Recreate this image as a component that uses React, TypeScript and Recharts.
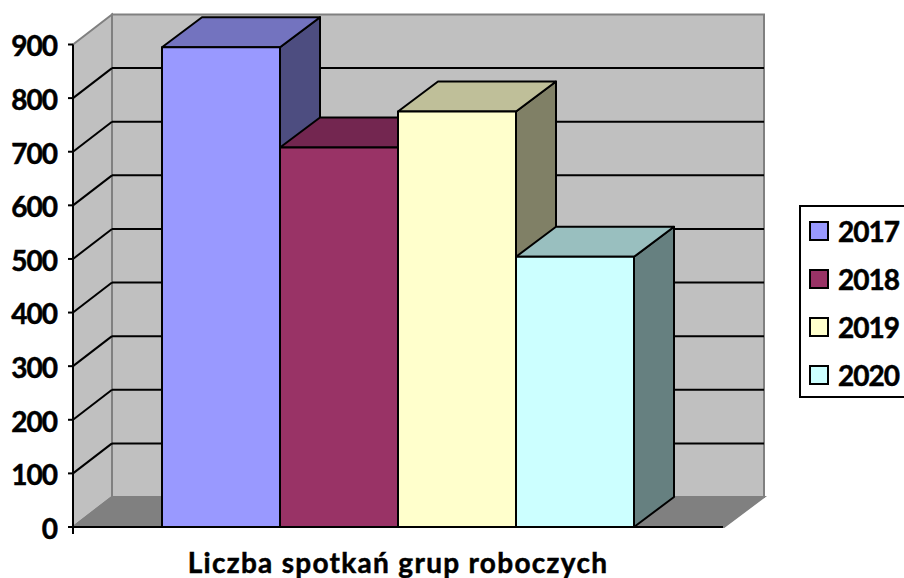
import { BarChart, Bar, XAxis, YAxis, CartesianGrid, Legend } from 'recharts'

const years = ['2017', '2018', '2019', '2020']
const values = [895, 708, 775, 504]
const yTicks = [0, 100, 200, 300, 400, 500, 600, 700, 800, 900]
const fronts = ['#9999ff', '#993366', '#ffffcc', '#ccffff']
const tops = ['#7373bf', '#732650', '#bfbf99', '#99bfbf']
const sides = ['#4d4d80', '#4d1a33', '#808066', '#668080']

const chartTitle = 'Liczba spotkań grup roboczych'
const FONT = 'Lato, sans-serif'

// 3d look: how far the back wall sits from the front plane
const DX = 40
const DY = 30
const LEFT = 73
const RIGHT = 724
const TOP = 44.5
const BOTTOM = 527

const tableRow: Record<string, string | number> = { name: chartTitle }
years.forEach((y, i) => {
  tableRow[y] = values[i]
})
const data = [tableRow]

function Walls() {
  const backL = LEFT + DX - 1
  const backR = RIGHT + DX
  const backT = TOP - DY
  const backB = BOTTOM - DY
  return (
    <g>
      <polygon
        points={`${LEFT},${TOP} ${backL},${backT} ${backL},${backB} ${LEFT},${BOTTOM}`}
        fill="#c0c0c0"
        stroke="#808080"
        strokeWidth={2}
      />
      <rect x={backL} y={backT} width={backR - backL} height={backB - backT} fill="#c0c0c0" stroke="#808080" strokeWidth={2} />
      <polygon
        points={`${LEFT},${BOTTOM} ${backL},${backB} ${backR},${backB} ${RIGHT},${BOTTOM}`}
        fill="#808080"
        stroke="#808080"
        strokeWidth={2}
      />
      <line x1={LEFT} y1={BOTTOM} x2={LEFT} y2={534} stroke="#000" strokeWidth={2} />
    </g>
  )
}

function gridLine(props: any) {
  const { x1, y1, index } = props
  const inner = y1 > TOP + 1 && y1 < BOTTOM - 1
  return (
    <g key={`row-${index}`}>
      {index === 0 && <Walls />}
      {inner && (
        <>
          <line x1={x1} y1={y1} x2={LEFT + DX - 1} y2={y1 - DY} stroke="#000" strokeWidth={2} />
          <line x1={LEFT + DX - 1} y1={y1 - DY} x2={RIGHT + DX} y2={y1 - DY} stroke="#000" strokeWidth={2} />
        </>
      )}
    </g>
  )
}

function box3d(i: number) {
  return (props: any) => {
    const { x, y, width, height } = props
    const r = x + width
    const b = y + height
    return (
      <g stroke="#000" strokeWidth={2} strokeLinejoin="round">
        <polygon points={`${r},${y} ${r + DX},${y - DY} ${r + DX},${b - DY} ${r},${b}`} fill={sides[i]} />
        <polygon points={`${x},${y} ${x + DX},${y - DY} ${r + DX},${y - DY} ${r},${y}`} fill={tops[i]} />
        <rect x={x} y={y} width={width} height={height} fill={fronts[i]} />
      </g>
    )
  }
}

function LegendBox({ payload }: any) {
  return (
    <div
      style={{
        boxSizing: 'border-box',
        width: 120,
        height: 193,
        border: '2px solid #000',
        background: '#fff',
      }}
    >
      {(payload ?? []).map((p: any) => (
        <div key={p.value} style={{ display: 'flex', alignItems: 'center', height: 48, paddingLeft: 8 }}>
          <span style={{ boxSizing: 'border-box', width: 20, height: 20, background: p.color, border: '2px solid #000' }} />
          <span
            style={{
              marginLeft: 9,
              font: `bold 28px ${FONT}`,
              letterSpacing: -1,
              color: '#000',
              WebkitTextStroke: '0.5px #000',
            }}
          >
            {p.value}
          </span>
        </div>
      ))}
    </div>
  )
}

export default function App() {
  const tickStyle = { fontFamily: FONT, fontSize: 28, fontWeight: 700, fill: '#000', stroke: '#000', strokeWidth: 0.5 }
  return (
    <div style={{ position: 'absolute', left: 0, top: 0, width: 904, height: 578, overflow: 'hidden', background: '#fff' }}>
      <BarChart
        width={904}
        height={578}
        data={data}
        barGap={0}
        barSize={118}
        margin={{ top: TOP, right: 904 - RIGHT + 1, bottom: 0, left: 0 }}
      >
        <CartesianGrid horizontal={gridLine} vertical={false} />
        <XAxis
          dataKey="name"
          height={578 - BOTTOM}
          tick={false}
          tickLine={false}
          axisLine={{ stroke: '#000', strokeWidth: 2 }}
          label={{
            value: chartTitle,
            position: 'insideBottom',
            offset: 5.5,
            style: { ...tickStyle, letterSpacing: 1.3 },
          }}
        />
        <YAxis
          width={LEFT}
          domain={[0, 900]}
          ticks={yTicks}
          interval={0}
          tick={{ ...tickStyle, letterSpacing: -1, dy: 2 }}
          tickSize={5}
          tickMargin={11}
          tickLine={{ stroke: '#000', strokeWidth: 2 }}
          axisLine={{ stroke: '#000', strokeWidth: 2 }}
        />
        {years.map((y, i) => (
          <Bar key={y} dataKey={y} fill={fronts[i]} shape={box3d(i)} isAnimationActive={false} />
        ))}
        <Legend
          layout="vertical"
          align="center"
          verticalAlign="middle"
          content={<LegendBox />}
          wrapperStyle={{ position: 'absolute', left: 799, top: 205, width: 120 }}
        />
      </BarChart>
    </div>
  )
}
